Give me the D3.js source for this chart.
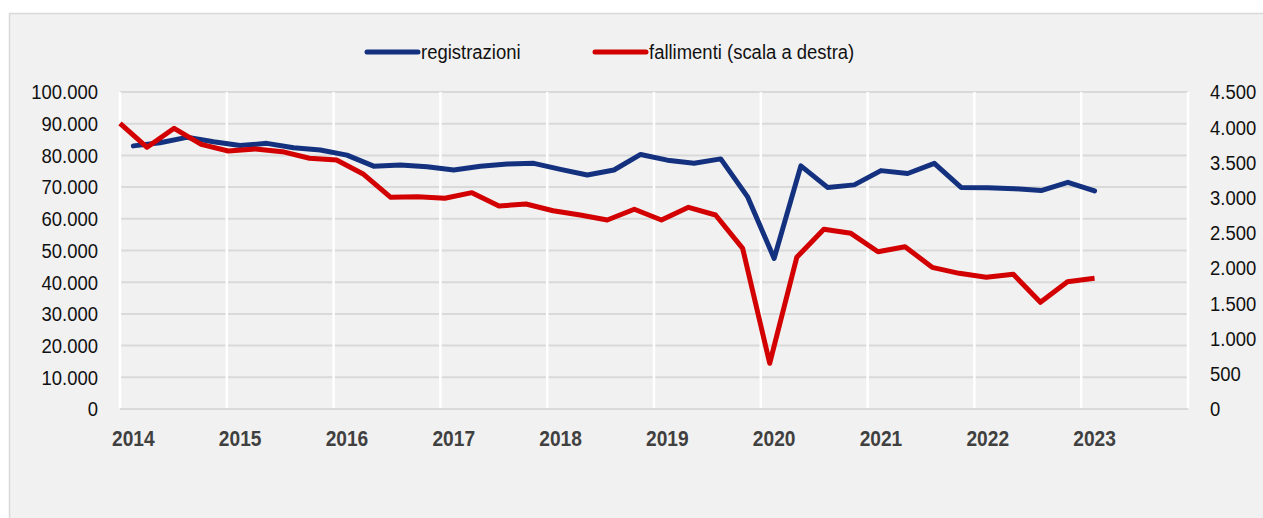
<!DOCTYPE html>
<html>
<head>
<meta charset="utf-8">
<script src="https://cdn.jsdelivr.net/npm/d3@7"></script>
<style>
  html, body { margin: 0; padding: 0; background: #fff; }
  svg { display: block; font-family: "Liberation Sans", Arial, sans-serif; }
</style>
</head>
<body>
<svg id="chart" width="1263" height="518"></svg>
<script>
// tick labels / categories
const years = [2014, 2015, 2016, 2017, 2018, 2019, 2020, 2021, 2022, 2023];
const leftTicks = [0, 10000, 20000, 30000, 40000, 50000, 60000, 70000, 80000, 90000, 100000];
const rightTicks = [0, 500, 1000, 1500, 2000, 2500, 3000, 3500, 4000, 4500];

// registrazioni (scala sinistra), trimestrale 2014T1 - 2023T1
const registrazioni = [
  83000, 84000, 85700, 84300, 83100, 83800, 82400, 81700, 80100, 76600,
  77000, 76400, 75400, 76600, 77300, 77500, 75600, 73800, 75400, 80300,
  78500, 77500, 78900, 67000, 47500, 76700, 69900, 70700, 75200, 74300,
  77500, 69900, 69800, 69500, 68900, 71500, 68800
];
// fallimenti (scala destra)
const fallimenti = [
  4056, 3715, 3985, 3757, 3662, 3691, 3653, 3559, 3535, 3332,
  3005, 3014, 2991, 3071, 2882, 2910, 2815, 2754, 2683, 2835,
  2683, 2863, 2754, 2281, 649, 2153, 2551, 2494, 2233, 2304,
  2011, 1926, 1869, 1912, 1515, 1807, 1855
];

const seriesNames = ["registrazioni", "fallimenti (scala a destra)"];
const seriesColors = ["#14317f", "#d20000"];

const svg = d3.select("#chart");
const W = 1263, H = 518;
const plot = {left: 120, right: 1188, top: 92, bottom: 409};

const fmt = d3.formatLocale({decimal: ",", thousands: ".", grouping: [3], currency: ["", "€"]}).format(",d");

// background panel
svg.append("rect")
  .attr("x", 9.5).attr("y", 13.5)
  .attr("width", W).attr("height", H)
  .attr("fill", "#f1f1f1")
  .attr("stroke", "#d9d9d9")
  .attr("stroke-width", 1.5);

const quarters = years.flatMap(y => [1, 2, 3, 4].map(q => y + "T" + q));

const x = d3.scaleBand().domain(quarters).range([plot.left, plot.right]);
const xMid = q => x(q) + x.bandwidth() / 2;
// red series sits on a secondary category axis
const xRed = d3.scalePoint()
  .domain(quarters.slice(0, fallimenti.length))
  .range([plot.left, xMid(quarters[registrazioni.length - 1])]);

const yL = d3.scaleLinear().domain([0, 100000]).range([plot.bottom, plot.top]);
const yR = d3.scaleLinear().domain([0, 4500]).range([plot.bottom, plot.top]);

// horizontal gridlines
svg.append("g").selectAll("line")
  .data(leftTicks)
  .join("line")
  .attr("x1", plot.left).attr("x2", plot.right)
  .attr("y1", d => yL(d)).attr("y2", d => yL(d))
  .attr("stroke", "#d9d9d9")
  .attr("stroke-width", 2);

// vertical white year lines
const yearEdges = years.map(y => x(y + "T1")).concat([plot.right]);
svg.append("g").selectAll("line")
  .data(yearEdges)
  .join("line")
  .attr("x1", d => d).attr("x2", d => d)
  .attr("y1", plot.top).attr("y2", plot.bottom - 1)
  .attr("stroke", "#ffffff")
  .attr("stroke-width", 2.5);

// helper: slightly condensed text
function label(g, tx, ty, txt, opts) {
  const sx = opts.sx || 0.88;
  g.append("text")
    .attr("transform", `translate(${tx},${ty}) scale(${sx},1)`)
    .attr("text-anchor", opts.anchor || "start")
    .attr("dy", "0.35em")
    .attr("font-size", opts.size || 21)
    .attr("font-weight", opts.weight || "normal")
    .attr("fill", opts.fill || "#111")
    .text(txt);
}

const axL = svg.append("g");
leftTicks.forEach(d => label(axL, 98, yL(d), fmt(d), {anchor: "end"}));
const axR = svg.append("g");
rightTicks.forEach(d => label(axR, 1210, yR(d), fmt(d), {anchor: "start"}));
const axX = svg.append("g");
years.forEach(y => label(axX, xMid(y + "T1"), 438, String(y),
  {anchor: "middle", size: 22, weight: "bold", fill: "#404040", sx: 0.87}));

// lines
const lineBlue = d3.line()
  .x((d, i) => xMid(quarters[i]))
  .y(d => yL(d));
const lineRed = d3.line()
  .x((d, i) => xRed(quarters[i]))
  .y(d => yR(d));

svg.append("path")
  .datum(registrazioni)
  .attr("d", lineBlue)
  .attr("fill", "none")
  .attr("stroke", seriesColors[0])
  .attr("stroke-width", 5)
  .attr("stroke-linejoin", "round")
  .attr("stroke-linecap", "round");

svg.append("path")
  .datum(fallimenti)
  .attr("d", lineRed)
  .attr("fill", "none")
  .attr("stroke", seriesColors[1])
  .attr("stroke-width", 5)
  .attr("stroke-linejoin", "round");

// legend
const legend = svg.append("g");
const legendX = [367, 595];
seriesNames.forEach((name, i) => {
  legend.append("line")
    .attr("x1", legendX[i]).attr("x2", legendX[i] + 51)
    .attr("y1", 52).attr("y2", 52)
    .attr("stroke", seriesColors[i])
    .attr("stroke-width", 5)
    .attr("stroke-linecap", "round");
  label(legend, legendX[i] + 54, 52, name, {anchor: "start"});
});
</script>
</body>
</html>
